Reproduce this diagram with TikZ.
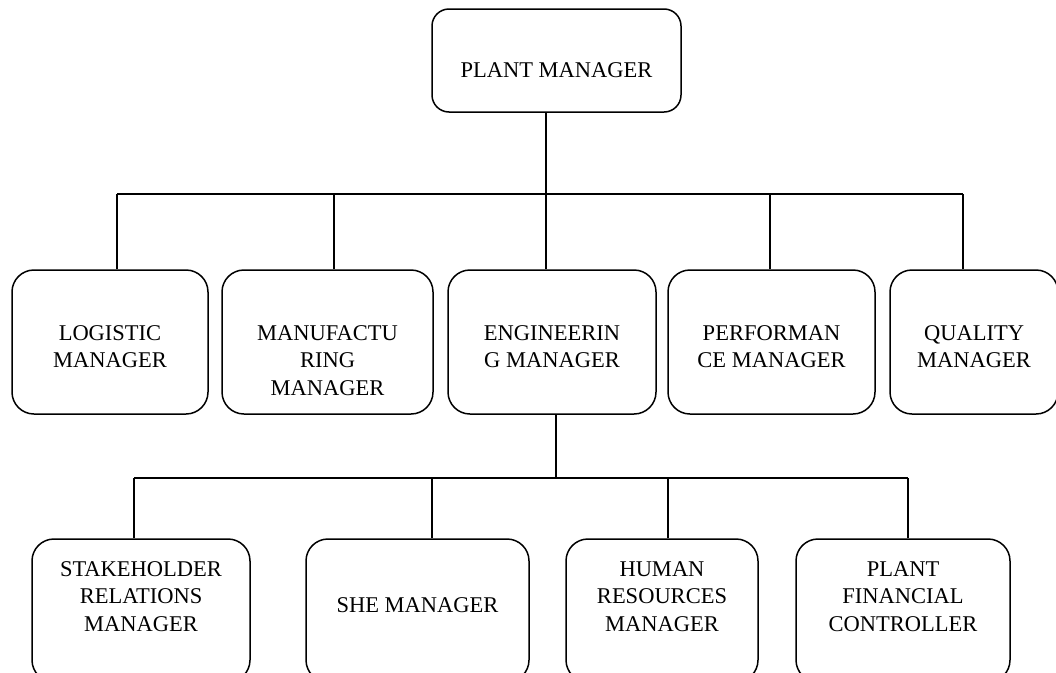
\documentclass[tikz,border=0pt]{standalone}
\usepackage{fontspec}
\setmainfont{Liberation Serif}

\begin{document}
\begin{tikzpicture}[x=1pt,y=-1pt,
  orgbox/.style={draw,line width=1.5pt,rounded corners=22pt,inner sep=0pt},
  orgtext/.style={anchor=north,align=center,inner sep=0pt,
    font=\fontsize{22.5}{27.5}\selectfont},
  link/.style={line width=1.5pt}]

  \useasboundingbox (0,0) rectangle (1056,672);

  \node[orgbox,rounded corners=17pt,minimum width=249pt,minimum height=103pt]
    (pm) at (556.5,60.5) {};

  \foreach \n/\x/\w in {log/110/196,man/327.5/211,eng/552/208,perf/771.5/207,qual/974/168}{
    \node[orgbox,minimum width=\w pt,minimum height=144pt] (\n) at (\x,342) {};
  }

  \foreach \n/\x/\w in {stake/141/218,she/417.5/223,hr/662/192,fin/903/214}{
    \node[orgbox,minimum width=\w pt,minimum height=143pt] (\n) at (\x,610.5) {};
  }

  \node[orgtext] (pm-t) at ([yshift=-54pt]pm.north) {PLANT MANAGER};

  \node[orgtext] (log-t) at ([yshift=-56pt]log.north) {LOGISTIC\\MANAGER};
  \node[orgtext] (man-t) at ([yshift=-56pt]man.north) {MANUFACTU\\RING\\MANAGER};
  \node[orgtext] (eng-t) at ([yshift=-56pt]eng.north) {ENGINEERIN\\G MANAGER};
  \node[orgtext] (perf-t) at ([yshift=-56pt]perf.north) {PERFORMAN\\CE MANAGER};
  \node[orgtext] (qual-t) at ([yshift=-56pt]qual.north) {QUALITY\\MANAGER};

  \node[orgtext] (stake-t) at ([yshift=-23pt]stake.north) {STAKEHOLDER\\RELATIONS\\MANAGER};
  \node[orgtext] (she-t) at ([yshift=-59pt]she.north) {SHE MANAGER};
  \node[orgtext] (hr-t) at ([yshift=-23pt]hr.north) {HUMAN\\RESOURCES\\MANAGER};
  \node[orgtext] (fin-t) at ([yshift=-23pt]fin.north) {PLANT\\FINANCIAL\\CONTROLLER};

  \coordinate (bus1) at (0,194);
  \coordinate (bus2) at (0,478);

  \draw[link] ([xshift=-10.5pt]pm.south) -- ([xshift=-10.5pt]pm.south |- bus1);
  \foreach \n/\d in {log/7,man/6.5,eng/-6,perf/-1.5,qual/-11}{
    \draw[link] ([xshift=\d pt]\n.north) -- ([xshift=\d pt]\n.north |- bus1);
  }
  \draw[link] ([xshift=7pt]log.north |- bus1) -- ([xshift=-11pt]qual.north |- bus1);

  \draw[link] ([xshift=4pt]eng.south) -- ([xshift=4pt]eng.south |- bus2);
  \foreach \n/\d in {stake/-7,she/14.5,hr/6,fin/5}{
    \draw[link] ([xshift=\d pt]\n.north) -- ([xshift=\d pt]\n.north |- bus2);
  }
  \draw[link] ([xshift=-7pt]stake.north |- bus2) -- ([xshift=5pt]fin.north |- bus2);

\end{tikzpicture}
\end{document}
